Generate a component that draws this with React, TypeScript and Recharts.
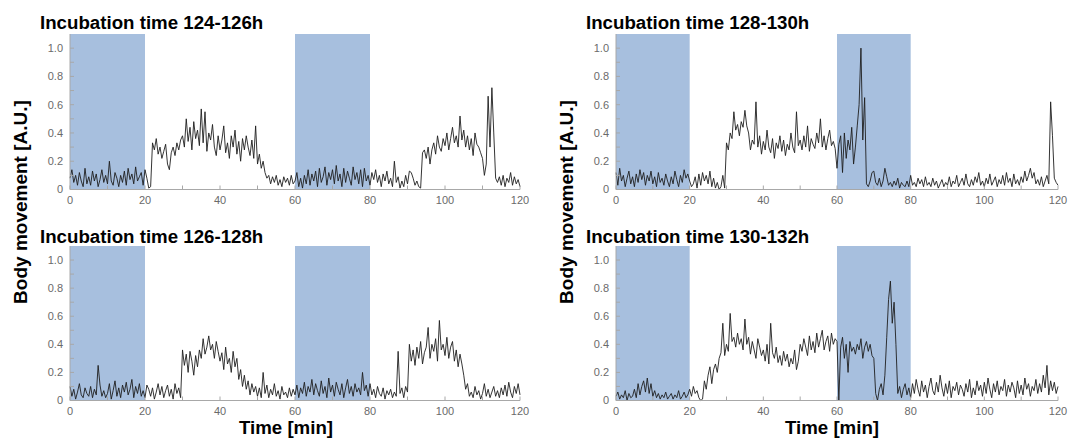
import React from 'react';
import { LineChart, Line, XAxis, YAxis, ReferenceArea } from 'recharts';

// time grid: one sample every 0.5 min, 0..120 min (241 samples)
const STEP_MIN = 0.5;
const minutes: number[] = Array.from({ length: 241 }, (_, i) => i * STEP_MIN);

const xTicks = [0, 10, 20, 30, 40, 50, 60, 70, 80, 90, 100, 110, 120];
const yTicks = [0, 0.1, 0.2, 0.3, 0.4, 0.5, 0.6, 0.7, 0.8, 0.9, 1.0];

// shaded periods in minutes
const shadedPeriods: [number, number][] = [
  [0, 20],
  [60, 80],
];

const titles = [
  'Incubation time 124-126h',
  'Incubation time 126-128h',
  'Incubation time 128-130h',
  'Incubation time 130-132h',
];

// body movement values in hundredths of A.U., one per 0.5 min
const move124: number[] = [
  8, 14, 5, 10, 3, 12, 6, 2, 15, 4,
  9, 3, 13, 6, 11, 2, 7, 14, 5, 10,
  4, 20, 6, 3, 12, 8, 2, 10, 5, 13,
  3, 15, 7, 11, 4, 16, 6, 9, 12, 3,
  14, 8, 1, 2, 33, 28, 36, 25, 30, 22,
  27, 32, 18, 14, 26, 30, 24, 33, 28, 35,
  38, 30, 50, 34, 44, 28, 48, 36, 42, 31,
  57, 33, 55, 27, 40, 35, 46, 30, 24, 38,
  28, 35, 45, 26, 33, 22, 38, 30, 42, 25,
  34, 20, 36, 28, 38, 30, 24, 35, 22, 45,
  18, 25, 15, 20, 12, 8, 10, 4, 9, 5,
  10, 3, 7, 2, 9, 5, 8, 3, 10, 4,
  6, 12, 2, 8, 1, 10, 4, 14, 3, 11,
  6, 13, 2, 15, 5, 9, 16, 3, 12, 7,
  14, 4, 17, 6, 11, 2, 15, 5, 13, 8,
  3, 16, 7, 12, 4, 14, 2, 15, 6, 10,
  3, 12, 7, 14, 5, 10, 2, 11, 6, 13,
  4, 8, 2, 20, 5, 9, 1, 6, 2, 10,
  4, 13, 12, 8, 3, 6, 2, 1, 26, 28,
  22, 30, 18, 28, 33, 25, 38, 30, 27, 36,
  31, 40, 28, 36, 44, 33, 38, 30, 52, 35,
  42, 30, 38, 28, 36, 24, 40, 32, 30, 26,
  22, 10, 18, 66, 30, 72, 40, 8, 5, 9,
  3, 10, 2, 8, 5, 12, 3, 9, 4, 7,
  2,
];

const move126: number[] = [
  10, 3, 8, 1, 6, 12, 4, 2, 9, 5,
  3, 10, 2, 8, 4, 25, 11, 3, 7, 2,
  5, 12, 1, 7, 14, 3, 9, 2, 11, 6,
  13, 4, 8, 15, 2, 10, 5, 12, 3, 7,
  2, 11, 8, 3, 9, 1, 6, 12, 4, 10,
  2, 7, 11, 3, 8, 1, 12, 5, 9, 2,
  36, 25, 33, 20, 35, 28, 18, 32, 24, 36,
  30, 44, 33, 38, 46, 36, 40, 30, 42, 35,
  28, 34, 22, 38, 26, 30, 20, 35, 24, 30,
  15, 22, 10, 18, 8, 14, 4, 12, 6, 10,
  3, 9, 2, 20, 5, 11, 2, 8, 4, 12,
  3, 7, 1, 10, 4, 6, 2, 9, 3, 8,
  4, 11, 2, 9, 5, 13, 3, 10, 6, 15,
  4, 12, 7, 3, 14, 5, 10, 2, 16, 6,
  11, 3, 13, 8, 4, 12, 2, 9, 15, 5,
  10, 3, 12, 6, 9, 4, 20, 7, 11, 3,
  12, 4, 8, 2, 10, 5, 3, 9, 1, 7,
  4, 8, 2, 6, 3, 35, 5, 9, 2, 10,
  6, 40, 28, 36, 25, 38, 30, 42, 26, 34,
  38, 52, 30, 40, 35, 44, 28, 57, 36, 40,
  32, 45, 30, 38, 42, 28, 36, 24, 33, 26,
  18, 8, 12, 3, 6, 2, 10, 4, 7, 1,
  5, 12, 3, 8, 2, 6, 10, 3, 7, 2,
  9, 4, 11, 3, 13, 6, 2, 10, 5, 12,
  4,
];

const move128: number[] = [
  12, 3, 15, 6, 10, 2, 8, 13, 4, 9,
  2, 11, 5, 14, 7, 12, 3, 10, 6, 13,
  4, 9, 2, 12, 5, 8, 3, 11, 6, 2,
  9, 4, 13, 7, 2, 10, 5, 14, 8, 11,
  6, 2, 4, 9, 1, 11, 3, 12, 6, 10,
  4, 13, 2, 8, 1, 5, 0, 2, 10, 1,
  33, 28, 40, 36, 55, 42, 46, 38, 48, 44,
  56, 45, 40, 28, 35, 32, 62, 30, 38, 25,
  34, 28, 42, 30, 26, 36, 22, 33, 29, 38,
  27, 35, 24, 32, 28, 40, 30, 26, 55, 31,
  35, 28, 38, 30, 45, 27, 36, 32, 29, 40,
  33, 50, 30, 38, 28, 36, 42, 31, 34, 29,
  15, 32, 38, 12, 40, 22, 35, 28, 44, 18,
  30, 45, 60, 100, 35, 65, 4, 2, 6, 12,
  13, 5, 3, 8, 2, 6, 15, 9, 3, 5,
  2, 6, 3, 8, 1, 5, 3, 2, 6, 2,
  10, 3, 5, 2, 8, 4, 7, 2, 9, 3,
  5, 2, 8, 3, 6, 1, 4, 7, 2, 5,
  3, 9, 2, 6, 4, 10, 2, 5, 8, 3,
  11, 4, 2, 7, 3, 9, 5, 12, 3, 6,
  2, 8, 4, 11, 3, 6, 9, 2, 7, 4,
  10, 3, 12, 5, 8, 2, 11, 4, 7, 3,
  9, 5, 13, 6, 10, 15, 8, 12, 4, 7,
  3, 9, 2, 6, 10, 4, 62, 38, 8, 5,
  3,
];

const move130: number[] = [
  3, 6, 1, 4, 2, 7, 0, 5, 2, 3,
  8, 2, 12, 4, 10, 14, 6, 16, 5, 12,
  3, 7, 2, 5, 1, 4, 2, 6, 1, 3,
  5, 1, 4, 2, 7, 1, 3, 6, 2, 4,
  8, 3, 10, 5, 7, 2, 0, 1, 14, 8,
  18, 24, 12, 22, 26, 20, 30, 34, 55, 32,
  40, 35, 62, 42, 45, 38, 48, 40, 44, 36,
  58, 40, 45, 33, 42, 36, 30, 44, 38, 32,
  36, 28, 40, 26, 55, 34, 30, 38, 27, 32,
  25, 35, 28, 33, 24, 30, 26, 36, 22, 28,
  40, 35, 44, 38, 32, 46, 36, 42, 34, 48,
  38, 44, 50, 36, 42, 46, 35, 48, 40, 44,
  42, 0, 38, 45, 30, 40, 20, 42, 35, 38,
  33, 40, 36, 44, 30, 38, 42, 35, 40, 32,
  30, 5, 0, 8, 12, 4, 18, 45, 72, 85,
  55, 70, 40, 5, 10, 2, 8, 12, 4, 9,
  2, 12, 5, 15, 8, 3, 14, 6, 11, 2,
  10, 16, 7, 4, 13, 6, 18, 9, 3, 12,
  5, 14, 2, 10, 7, 13, 4, 11, 8, 3,
  12, 6, 15, 2, 9, 4, 14, 7, 11, 3,
  13, 5, 16, 8, 2, 12, 6, 14, 4, 10,
  7, 15, 3, 11, 6, 13, 9, 2, 14, 5,
  11, 4, 16, 8, 12, 3, 10, 7, 15, 5,
  12, 6, 18, 9, 25, 4, 14, 7, 13, 5,
  10,
];

const toData = (vals: number[]) => minutes.map((t, i) => ({ t, v: vals[i] / 100 }));

const BLUE = '#a7bfde';
const BORDER = '#a8a8a8';
const TICK_TEXT = '#6a6a6a';
const FONT = '"Liberation Sans", Arial, sans-serif';

const xFmt = (v: number) => (Math.round(v) % 20 === 0 ? String(v) : '');
const yFmt = (v: number) => {
  const k = Math.round(v * 10);
  if (k % 2 !== 0) return '';
  return k === 0 ? '0' : (k / 10).toFixed(1);
};
const blank = () => '';

type PanelProps = { vals: number[]; left: number; top: number; plotW: number; plotH: number };

function Panel({ vals, left, top, plotW, plotH }: PanelProps) {
  const ml = 34;
  const mr = 10;
  const mt = 6;
  const mb = 26;
  const data = toData(vals);
  const tickStyle = { fontSize: 11, fill: TICK_TEXT, fontFamily: FONT };
  return (
    <div style={{ position: 'absolute', left: left - ml, top: top - mt }}>
      <LineChart
        width={ml + plotW + mr}
        height={mt + plotH + mb}
        data={data}
        margin={{ top: mt, right: mr, left: 0, bottom: 0 }}
      >
        {shadedPeriods.map(([a, b], i) => (
          <ReferenceArea
            key={i}
            xAxisId="b"
            yAxisId="l"
            x1={a}
            x2={b}
            y1={0}
            y2={1.1}
            fill={BLUE}
            fillOpacity={1}
            stroke="none"
          />
        ))}
        <XAxis
          xAxisId="b"
          dataKey="t"
          type="number"
          domain={[0, 120]}
          ticks={xTicks}
          interval={0}
          orientation="bottom"
          height={mb}
          tickSize={-4}
          tickMargin={11}
          tickFormatter={xFmt}
          stroke={BORDER}
          axisLine={{ stroke: BORDER }}
          tickLine={{ stroke: BORDER }}
          tick={tickStyle}
        />
        <XAxis
          xAxisId="t"
          dataKey="t"
          type="number"
          domain={[0, 120]}
          ticks={xTicks}
          interval={0}
          orientation="top"
          height={0}
          tickSize={-4}
          tickFormatter={blank}
          stroke={BORDER}
          axisLine={{ stroke: BORDER }}
          tickLine={{ stroke: BORDER }}
          tick={tickStyle}
        />
        <YAxis
          yAxisId="l"
          type="number"
          domain={[0, 1.1]}
          ticks={yTicks}
          interval={0}
          width={ml}
          tickSize={-4}
          tickMargin={11}
          tickFormatter={yFmt}
          stroke={BORDER}
          axisLine={{ stroke: BORDER }}
          tickLine={{ stroke: BORDER }}
          tick={tickStyle}
        />
        <YAxis
          yAxisId="r"
          type="number"
          orientation="right"
          domain={[0, 1.1]}
          ticks={yTicks}
          interval={0}
          width={0}
          tickSize={-4}
          tickFormatter={blank}
          stroke={BORDER}
          axisLine={{ stroke: BORDER }}
          tickLine={{ stroke: BORDER }}
          tick={tickStyle}
        />
        <Line
          xAxisId="b"
          yAxisId="l"
          type="linear"
          dataKey="v"
          stroke="#1e1e1e"
          strokeWidth={0.9}
          dot={false}
          activeDot={false}
          isAnimationActive={false}
        />
      </LineChart>
    </div>
  );
}

export default function App() {
  const labelStyle = { fontFamily: FONT, fontWeight: 700, fontSize: 18.7, fill: '#000' } as const;
  const yLabelStyle = { ...labelStyle, fontSize: 19 } as const;
  return (
    <div
      style={{
        position: 'absolute',
        left: 0,
        top: 0,
        width: 1068,
        height: 439,
        overflow: 'hidden',
        background: '#fff',
      }}
    >
      <Panel vals={move124} left={70} top={34} plotW={450} plotH={155.5} />
      <Panel vals={move126} left={70} top={245.5} plotW={450} plotH={154.5} />
      <Panel vals={move128} left={616} top={34} plotW={442} plotH={155.5} />
      <Panel vals={move130} left={616} top={245.5} plotW={442} plotH={154.5} />
      <svg
        width={1068}
        height={439}
        style={{ position: 'absolute', left: 0, top: 0, pointerEvents: 'none' }}
      >
        <text x={40} y={29} {...labelStyle}>{titles[0]}</text>
        <text x={40} y={243} {...labelStyle}>{titles[1]}</text>
        <text x={586} y={29} {...labelStyle}>{titles[2]}</text>
        <text x={586} y={243} {...labelStyle}>{titles[3]}</text>
        <text
          x={20}
          y={202}
          textAnchor="middle"
          dominantBaseline="central"
          transform="rotate(-90 20 202)"
          {...yLabelStyle}
        >
          Body movement [A.U.]
        </text>
        <text
          x={566}
          y={202}
          textAnchor="middle"
          dominantBaseline="central"
          transform="rotate(-90 566 202)"
          {...yLabelStyle}
        >
          Body movement [A.U.]
        </text>
        <text x={286} y={434} textAnchor="middle" {...labelStyle}>Time [min]</text>
        <text x={832} y={434} textAnchor="middle" {...labelStyle}>Time [min]</text>
      </svg>
    </div>
  );
}
